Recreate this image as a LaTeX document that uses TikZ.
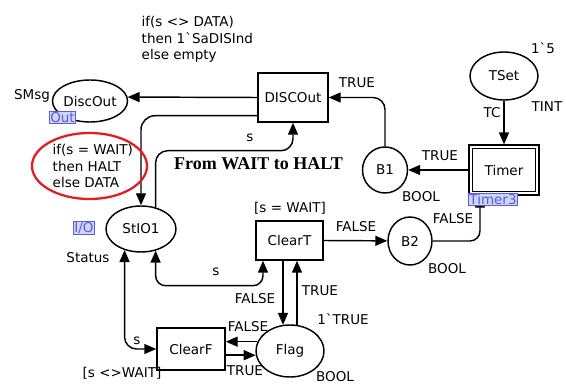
\documentclass[tikz,border=0pt]{standalone}
\usepackage{fontspec}
\setmainfont{DejaVu Sans}
\newfontfamily\titlefont{Liberation Serif}
\usetikzlibrary{arrows.meta,calc,shapes.geometric}
\definecolor{fusfill}{RGB}{208,212,250}
\definecolor{fustext}{RGB}{85,95,215}
\definecolor{hlred}{RGB}{225,30,35}
\begin{document}
\begin{tikzpicture}[x=1pt,y=-1pt,
  font=\fontsize{13.5}{16.5}\selectfont, line width=1.45pt,
  place/.style={ellipse,draw,inner sep=0pt},
  trans/.style={rectangle,draw,inner sep=0pt},
  carc/.style={-{Triangle[length=12pt,width=10pt]}},
  barc/.style={{Triangle[length=12pt,width=10pt]}-{Triangle[length=12pt,width=10pt]}},
  lbl/.style={inner sep=0pt},
  fusion/.style={draw=fustext,fill=fusfill,text=fustext,line width=0.6pt,inner sep=1pt}]
\useasboundingbox (0,0) rectangle (566,387);

% places and transitions
\node[place,minimum width=66pt,minimum height=42pt] (DiscOut) at (90,101) {DiscOut};
\node[trans,minimum width=70pt,minimum height=49pt] (DISCOut) at (293,97.5) {DISCOut};
\node[place,minimum width=68pt,minimum height=48pt] (TSet) at (504,76) {TSet};
\node[trans,minimum width=70pt,minimum height=50pt,line width=1.2pt] (Timer) at (504,170) {Timer};
\draw[line width=1.2pt] ($(Timer.south west)+(4,-4)$) rectangle ($(Timer.north east)+(-4,4)$);
\node[place,minimum width=45pt,minimum height=46pt] (B1) at (385,170) {B1};
\node[place,minimum width=44pt,minimum height=48pt] (B2) at (410,241) {B2};
\node[place,minimum width=70pt,minimum height=46pt] (StIO1) at (141,229) {StIO1};
\node[trans,minimum width=67pt,minimum height=39pt] (ClearT) at (289.5,240.5) {ClearT};
\node[trans,minimum width=68pt,minimum height=42pt] (ClearF) at (191,349) {ClearF};
\node[place,minimum width=68pt,minimum height=52pt] (Flag) at (290,351) {Flag};

% arcs
\draw[carc] (DISCOut.west) -- (DiscOut.6);
\draw[carc,rounded corners=14pt] ($(DISCOut.south west)+(0,-7)$) -| (StIO1.north);
\draw[carc,rounded corners=12pt] (StIO1.56) |- ($(DISCOut.south)+(0,28)$) -- (DISCOut.south);
\draw[carc,rounded corners=12pt] (B1.north) |- (DISCOut.east);
\draw[carc] (Timer.west) -- (B1);
\draw[carc] (TSet.south) -- (Timer.north);
\draw[carc,rounded corners=10pt] (B2.east) -| ($(Timer.south)+(-24,0)$);
\draw[carc] (ClearT.east) -- (B2);
\draw[barc,rounded corners=10pt] (StIO1.-56) |- ($(ClearT.south)+(-26.5,25)$) -- ($(ClearT.south)+(-26.5,0)$);
\draw[barc,rounded corners=12pt] (StIO1.-128) |- (ClearF.west);
\draw[carc] ($(ClearT.south)+(-6.5,0)$) -- ($(Flag.north)+(-7,0.6)$);
\draw[carc] ($(Flag.north)+(7,0.6)$) -- ($(ClearT.south)+(7.5,0)$);
\draw[carc] (Flag.164) -- (ClearF.east |- Flag.164);
\draw[carc] (ClearF.east |- Flag.-173) -- (Flag.-173);

% highlighted expression
\draw[hlred,line width=2.3pt] (89.5,166) ellipse (57.5 and 33);
\node[lbl,anchor=west,align=left] (expr2) at (52,166) {if(s = WAIT)\\then HALT\\else DATA};
\node[lbl,anchor=west,align=left] (expr1) at (141,39.5) {if(s <> DATA)\\then 1\textasciigrave SaDISInd\\else empty};
\node[lbl,font=\titlefont\bfseries\fontsize{18}{20}\selectfont] (title) at (258.5,164) {From WAIT to HALT};

% labels
\node[lbl] (l1) at (32,96) {SMsg};
\node[lbl] (l2) at (357,83) {TRUE};
\node[lbl] (l3) at (543,48) {1\textasciigrave 5};
\node[lbl] (l4) at (547,107) {TINT};
\node[lbl] (l5) at (492,113) {TC};
\node[lbl] (l6) at (440,156) {TRUE};
\node[lbl] (l7) at (421,197) {BOOL};
\node[lbl] (l8) at (453,219) {FALSE};
\node[lbl] (l9) at (356,227) {FALSE};
\node[lbl] (l10) at (447,269) {BOOL};
\node[lbl] (l11) at (290,208) {[s = WAIT]};
\node[lbl] (l12) at (88,258) {Status};
\node[lbl] (l13) at (250,138) {s};
\node[lbl] (l14) at (216,272) {s};
\node[lbl] (l15) at (137,341) {s};
\node[lbl] (l16) at (255,299) {FALSE};
\node[lbl] (l17) at (320,291) {TRUE};
\node[lbl] (l18) at (343,319) {1\textasciigrave TRUE};
\node[lbl] (l19) at (248,327) {FALSE};
\node[lbl] (l20) at (245,371) {TRUE};
\node[lbl] (l21) at (335,377) {BOOL};
\node[lbl] (l22) at (122,373) {[s <>WAIT]};

% fusion / port tags
\node[fusion] (tOut) at (62.5,117.5) {Out};
\node[fusion] (tIO) at (84,228) {I/O};
\node[fusion] (tTimer) at (493,199.5) {Timer3};
\end{tikzpicture}
\end{document}
